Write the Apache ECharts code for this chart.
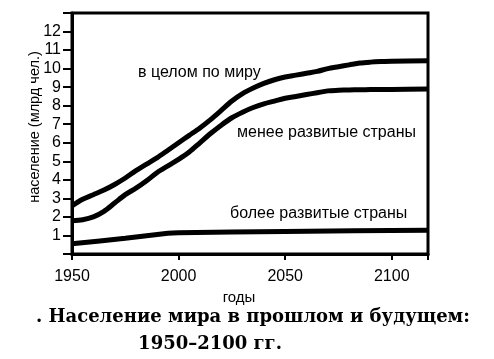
<!DOCTYPE html>
<html><head><meta charset="utf-8">
<script src="https://cdn.jsdelivr.net/npm/echarts@6/dist/echarts.min.js"></script>
<style>html,body{margin:0;padding:0;background:#fff}#c{width:494px;height:359px}</style>
</head><body><div id="c"></div>
<script>
const years = [1950,1955,1960,1965,1970,1975,1980,1985,1990,1995,2000,2005,2010,2015,2020,2025,2030,2035,2040,2045,2050,2055,2060,2065,2070,2075,2080,2085,2090,2095,2100,2117];
const world = [2.6,2.95,3.2,3.45,3.75,4.1,4.5,4.85,5.2,5.6,6.0,6.4,6.8,7.25,7.75,8.25,8.65,8.95,9.2,9.4,9.55,9.65,9.75,9.85,10.0,10.1,10.2,10.3,10.35,10.38,10.4,10.42];
const lessDeveloped = [1.8,1.85,2.0,2.3,2.75,3.2,3.55,3.95,4.4,4.75,5.1,5.5,6.0,6.5,6.95,7.35,7.65,7.9,8.1,8.25,8.4,8.5,8.6,8.7,8.8,8.83,8.85,8.86,8.87,8.88,8.88,8.9];
const devYears = [1950,1975,1995,2000,2050,2117];
const moreDeveloped = [0.55,0.85,1.12,1.15,1.22,1.28];
const xTicks = [1950,2000,2050,2100];
const yTicks = [1,2,3,4,5,6,7,8,9,10,11,12];
const seriesNames = ['в целом по миру','менее развитые страны','более развитые страны'];
const yTitle = 'население (млрд чел.)';
const xTitle = 'годы';
const caption1 = '. Население мира в прошлом и будущем:';
const caption2 = '1950–2100 гг.';

const pair = (xs, vs) => xs.map((x, i) => [x, vs[i]]);
const chart = echarts.init(document.getElementById('c'));
const lineStyle = {color:'#000', width:5};
chart.setOption({
  animation:false,
  grid:{left:72, right:66, top:13, height:241, show:true, borderColor:'#000', borderWidth:3, backgroundColor:'transparent'},
  xAxis:{type:'value', min:1950, max:2117, interval:50,
    axisLine:{lineStyle:{color:'#000', width:3}},
    axisTick:{show:true, length:6, lineStyle:{color:'#000', width:2}},
    splitLine:{show:false},
    axisLabel:{color:'#000', fontSize:16, fontFamily:'Liberation Sans', margin:15,
      formatter:v => xTicks.includes(v) ? String(v) : ''},
    name:xTitle, nameLocation:'middle', nameGap:33,
    nameTextStyle:{color:'#000', fontSize:15, fontFamily:'Liberation Sans', padding:[0,22,0,0]}
  },
  yAxis:{type:'value', min:0, max:13, interval:1,
    axisLine:{lineStyle:{color:'#000', width:3}},
    axisTick:{show:true, length:9, lineStyle:{color:'#000', width:2}},
    splitLine:{show:false},
    axisLabel:{color:'#000', fontSize:16, fontFamily:'Liberation Sans', margin:11,
      formatter:v => yTicks.includes(v) ? String(v) : ''}
  },
  series:[
    {name:seriesNames[0], type:'line', data:pair(years, world), showSymbol:false, smooth:0.3, lineStyle},
    {name:seriesNames[1], type:'line', data:pair(years, lessDeveloped), showSymbol:false, smooth:0.3, lineStyle},
    {name:seriesNames[2], type:'line', data:pair(devYears, moreDeveloped), showSymbol:false, smooth:0.2, lineStyle}
  ],
  graphic:[
    {type:'text', x:35, y:127, rotation:Math.PI/2, style:{text:yTitle, fill:'#000', font:'14.5px "Liberation Sans"', textAlign:'center', textVerticalAlign:'middle'}},
    {type:'text', x:138, y:73, style:{text:seriesNames[0], fill:'#000', font:'16px "Liberation Sans"', textVerticalAlign:'middle'}},
    {type:'text', x:237, y:133, style:{text:seriesNames[1], fill:'#000', font:'16px "Liberation Sans"', textVerticalAlign:'middle'}},
    {type:'text', x:230, y:214, style:{text:seriesNames[2], fill:'#000', font:'16px "Liberation Sans"', textVerticalAlign:'middle'}},
    {type:'text', x:36, y:317, style:{text:caption1, fill:'#000', font:'bold 18px "DejaVu Serif"', textVerticalAlign:'middle'}},
    {type:'text', x:210, y:344, style:{text:caption2, fill:'#000', font:'bold 18px "DejaVu Serif"', textAlign:'center', textVerticalAlign:'middle'}}
  ]
});
</script></body></html>
